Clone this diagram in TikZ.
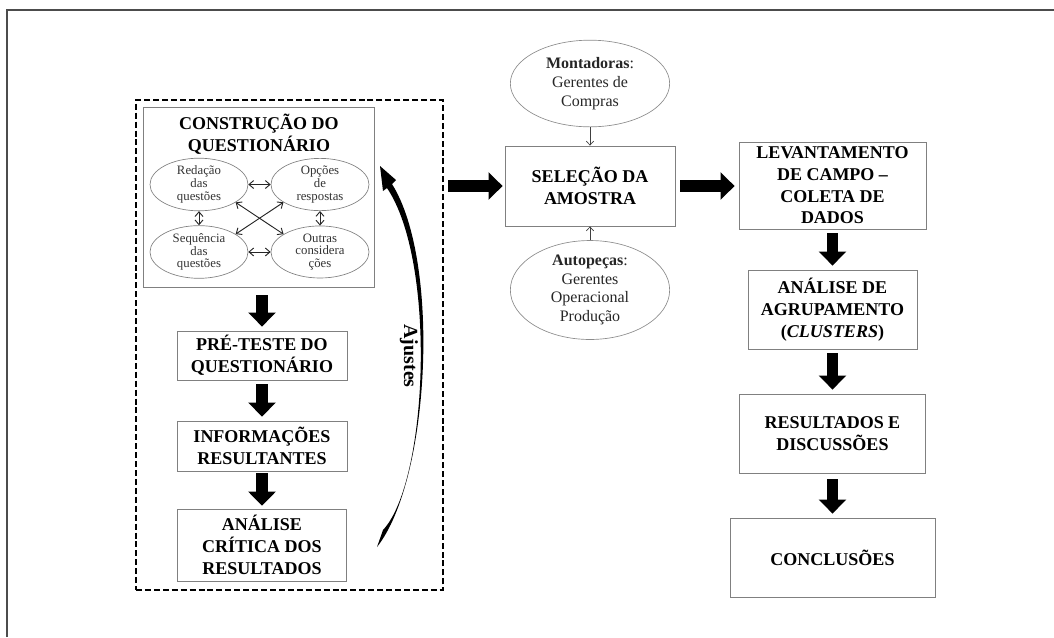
\documentclass[tikz,border=0pt]{standalone}
\usepackage{fontspec}
\setmainfont{Liberation Serif}
\usetikzlibrary{positioning, arrows.meta, shapes.geometric}

\tikzset{
  etapa/.style={draw=black!50, line width=0.6pt, align=center, inner sep=0pt,
    font=\fontsize{13.5}{16.3}\selectfont\bfseries},
  grupo/.style={draw=black!45, line width=0.5pt, ellipse, align=center, inner sep=0pt,
    minimum width=119.5pt, minimum height=65pt, text=black!85,
    font=\fontsize{12}{14}\selectfont},
  item/.style={draw=black!50, line width=0.5pt, ellipse, align=center, inner sep=0pt,
    minimum width=73.5pt, minimum height=35pt, text=black!80,
    font=\fontsize{9.6}{9.6}\selectfont},
  grossa/.style={line width=8.5pt, shorten <=3pt, shorten >=3pt,
    -{Triangle[length=10.5pt,width=20pt]}},
  fina/.style={draw=black!75, line width=0.5pt, -{Straight Barb[length=3pt,width=5.5pt]}},
  dupla/.style={draw=black!85, line width=0.7pt,
    {Straight Barb[length=3.5pt,width=6pt]}-{Straight Barb[length=3.5pt,width=6pt]}},
}

\begin{document}
\begin{tikzpicture}[x=0.75pt, y=-0.75pt, on grid]
  \useasboundingbox (0,0) rectangle (1054,637);
  \draw[black!70, line width=1.1pt] (7,637) -- (7,10) -- (1054,10);

  % bloco do questionario
  \node[draw, line width=1.5pt, dash pattern=on 4.5pt off 2.2pt,
    minimum width=230.25pt, minimum height=367.5pt] (ciclo) at (289.5,345) {};
  \node[etapa, minimum width=173.25pt, minimum height=135pt] (constr) at (258.5,197) {};
  \node[etapa, draw=none] (titulo) at (259,134) {CONSTRUÇÃO DO\\QUESTIONÁRIO};

  \node[item] (redacao) at (199,184.5) {Redação\\das\\questões};
  \node[item, right=90.75pt of redacao] (opcoes) {Opções\\de\\respostas};
  \node[item, below=50.6pt of redacao] (sequencia) {Sequência\\das\\questões};
  \node[item, right=90.75pt of sequencia] (outras) {Outras\\considera\\ções};

  \draw[dupla] (redacao.east) -- (opcoes.west);
  \draw[dupla] (sequencia.east) -- (outras.west);
  \draw[dupla] (redacao.south) -- (sequencia.north);
  \draw[dupla] (opcoes.south) -- (outras.north);
  \draw[dupla] (redacao.-26) -- (outras.154);
  \draw[dupla] (sequencia.26) -- (opcoes.-154);

  \node[etapa, minimum width=127.5pt, minimum height=36.75pt] (preteste) at (262,355.5)
    {PRÉ-TESTE DO\\QUESTIONÁRIO};
  \node[etapa, minimum width=127.5pt, minimum height=37.5pt, below=67.9pt of preteste] (info)
    {INFORMAÇÕES\\RESULTANTES};
  \node[etapa, minimum width=126.75pt, minimum height=54pt, below=74.25pt of info] (critica)
    {ANÁLISE\\CRÍTICA DOS\\RESULTADOS};

  \draw[grossa, shorten <=6pt] (constr.south -| preteste.north) -- (preteste.north);
  \draw[grossa] (preteste) -- (info);
  \draw[grossa, shorten <=1.5pt, shorten >=2.2pt] (info) -- (critica);

  % seta de ajustes
  \fill (377,547) .. controls (430,480) and (441,262) .. (392,184) -- (396,180) -- (380,166)
    -- (383,191) -- (387,188) .. controls (437,262) and (428,482) .. (383,530) -- cycle;
  \node[rotate=-90, font=\fontsize{15}{15}\selectfont\bfseries] (ajustes) at (409,356) {Ajustes};

  % amostra
  \node[etapa, minimum width=127.5pt, minimum height=60pt] (selecao) at (590,186)
    {SELEÇÃO DA\\AMOSTRA};
  \node[grupo] (montadoras) at (590,83.5) {\textbf{Montadoras}:\\Gerentes de\\Compras};
  \node[grupo] (autopecas) at (590,290) {\textbf{Autopeças}:\\Gerentes\\Operacional\\Produção};
  \draw[fina] (montadoras) -- (selecao);
  \draw[fina] (autopecas) -- (selecao);

  \draw[grossa, shorten >=1.5pt] (ciclo.east |- selecao) -- (selecao.west);

  % coluna da direita
  \node[etapa, minimum width=140.25pt, minimum height=65.25pt] (levant) at (832.5,185.5)
    {LEVANTAMENTO\\DE CAMPO --\\COLETA DE\\DADOS};
  \node[etapa, minimum width=126.75pt, minimum height=59.25pt, below=93pt of levant] (agrup)
    {ANÁLISE DE\\AGRUPAMENTO\\(\textit{CLUSTERS})};
  \node[etapa, minimum width=139.5pt, minimum height=59.25pt, below=93pt of agrup] (result)
    {RESULTADOS E\\DISCUSSÕES};
  \node[etapa, minimum width=153.75pt, minimum height=59.25pt, below=93pt of result] (concl)
    {CONCLUSÕES};

  \draw[grossa, shorten <=3.7pt] (selecao) -- (levant.west |- selecao);
  \draw[grossa] (levant) -- (agrup);
  \draw[grossa] (agrup) -- (result);
  \draw[grossa, shorten <=4.5pt] (result) -- (concl);
\end{tikzpicture}
\end{document}
